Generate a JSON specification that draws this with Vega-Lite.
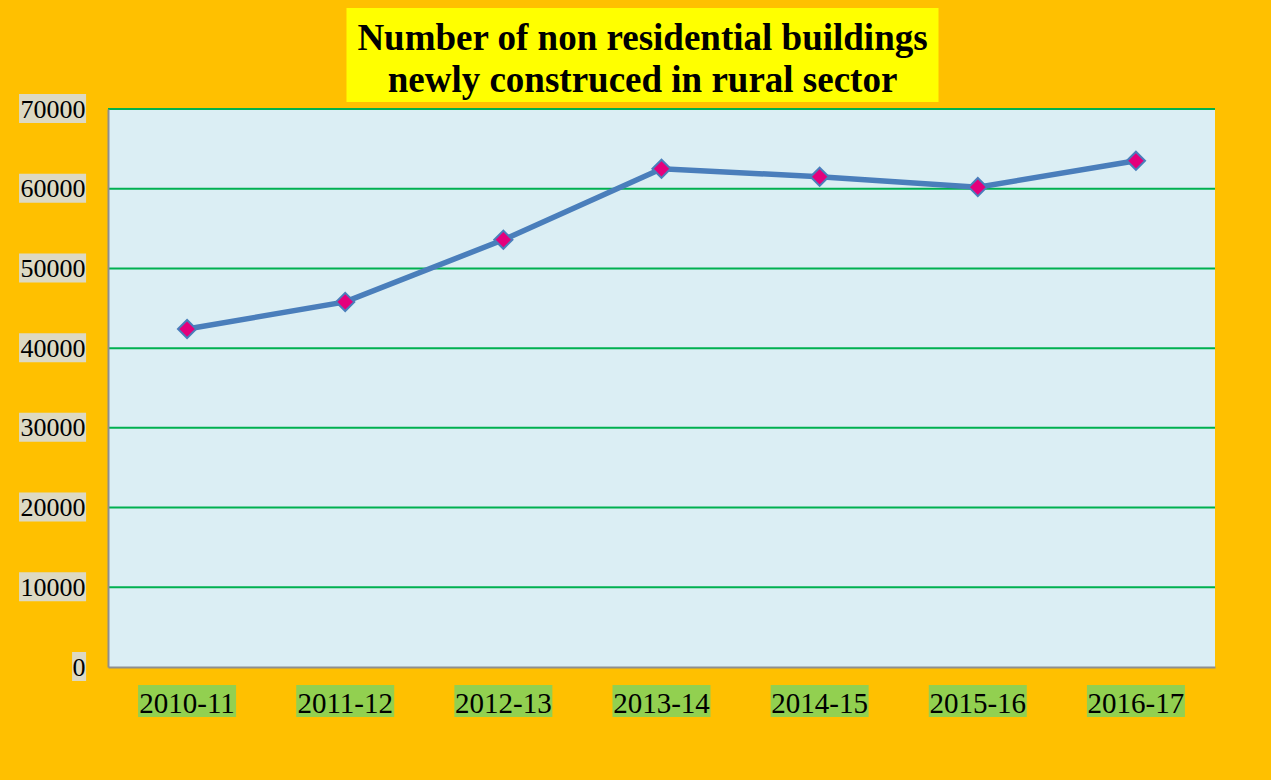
{
  "$schema": "https://vega.github.io/schema/vega-lite/v6.json",
  "width": 1107,
  "height": 558,
  "autosize": {"type": "none"},
  "padding": {"left": 108, "top": 109, "right": 56, "bottom": 113},
  "background": "#FFC000",
  "config": {"view": {"fill": "#DBEEF4", "stroke": null}, "font": "Liberation Serif"},
  "title": {
    "text": ["Number of non residential buildings", "newly construced in rural sector"],
    "font": "Liberation Serif",
    "fontSize": 37,
    "fontWeight": "bold",
    "color": "black",
    "anchor": "middle",
    "frame": "group",
    "baseline": "top",
    "dx": -19,
    "offset": -92,
    "lineHeight": 42,
    "zindex": 1
  },
  "datasets": {
    "main": [
      {"year": "2010-11", "buildings": 42400},
      {"year": "2011-12", "buildings": 45800},
      {"year": "2012-13", "buildings": 53600},
      {"year": "2013-14", "buildings": 62500},
      {"year": "2014-15", "buildings": 61500},
      {"year": "2015-16", "buildings": 60200},
      {"year": "2016-17", "buildings": 63500}
    ],
    "ticks": [
      {"v": 0}, {"v": 10000}, {"v": 20000}, {"v": 30000},
      {"v": 40000}, {"v": 50000}, {"v": 60000}, {"v": 70000}
    ]
  },
  "layer": [
    {
      "data": {"values": [{"k": 1}]},
      "mark": {"type": "rect", "color": "#FFFF00", "width": 592, "xOffset": -19, "yOffset": -101, "y2Offset": -7},
      "encoding": {
        "x": {"datum": "2013-14", "type": "nominal", "scale": {"type": "band", "paddingInner": 0, "paddingOuter": 0}},
        "y": {"datum": 70000, "type": "quantitative"},
        "y2": {"datum": 70000}
      }
    },
    {
      "data": {"name": "ticks"},
      "transform": [{"filter": "datum.v > 0"}],
      "mark": {"type": "rect", "color": "#DDD9C3", "width": 67, "xOffset": -134.5, "yOffset": -15, "y2Offset": 14},
      "encoding": {
        "x": {"datum": "2010-11", "type": "nominal"},
        "y": {"field": "v", "type": "quantitative"},
        "y2": {"field": "v"}
      }
    },
    {
      "data": {"name": "ticks"},
      "transform": [{"filter": "datum.v == 0"}],
      "mark": {"type": "rect", "color": "#DDD9C3", "width": 14, "xOffset": -108, "yOffset": -15, "y2Offset": 14},
      "encoding": {
        "x": {"datum": "2010-11", "type": "nominal"},
        "y": {"field": "v", "type": "quantitative"},
        "y2": {"field": "v"}
      }
    },
    {
      "data": {"name": "main"},
      "mark": {"type": "rect", "color": "#92D050", "width": 98, "yOffset": 18, "y2Offset": 50},
      "encoding": {
        "x": {"field": "year", "type": "nominal"},
        "y": {"datum": 0, "type": "quantitative"},
        "y2": {"datum": 0}
      }
    },
    {
      "data": {"name": "ticks"},
      "transform": [{"filter": "datum.v > 0"}],
      "mark": {"type": "rule", "color": "#00B050", "strokeWidth": 2},
      "encoding": {
        "y": {"field": "v", "type": "quantitative"}
      }
    },
    {
      "data": {"name": "main"},
      "mark": {"type": "line", "color": "#4A7EBB", "strokeWidth": 5.5},
      "encoding": {
        "x": {
          "field": "year",
          "type": "nominal",
          "sort": null,
          "axis": {
            "title": null,
            "ticks": false,
            "domainColor": "#8E8E8E",
            "domainWidth": 2,
            "labelFont": "Liberation Serif",
            "labelFontSize": 29,
            "labelColor": "black",
            "labelPadding": 45,
            "labelBaseline": "alphabetic",
            "labelAlign": "center",
            "labelAngle": 0,
            "zindex": 1
          }
        },
        "y": {
          "field": "buildings",
          "type": "quantitative",
          "scale": {"domain": [0, 70000], "nice": false, "zero": true},
          "axis": {
            "title": null,
            "values": [0, 10000, 20000, 30000, 40000, 50000, 60000, 70000],
            "format": "d",
            "grid": false,
            "ticks": false,
            "domainColor": "#8E8E8E",
            "domainWidth": 2,
            "labelFont": "Liberation Serif",
            "labelFontSize": 26,
            "labelColor": "black",
            "labelPadding": 23,
            "labelFlush": false,
            "labelOverlap": false,
            "zindex": 1
          }
        }
      }
    },
    {
      "data": {"name": "main"},
      "mark": {"type": "point", "shape": "diamond", "filled": true, "fill": "#E4007C", "stroke": "#4A7EBB", "strokeWidth": 2, "size": 330, "opacity": 1},
      "encoding": {
        "x": {"field": "year", "type": "nominal"},
        "y": {"field": "buildings", "type": "quantitative"}
      }
    }
  ]
}
